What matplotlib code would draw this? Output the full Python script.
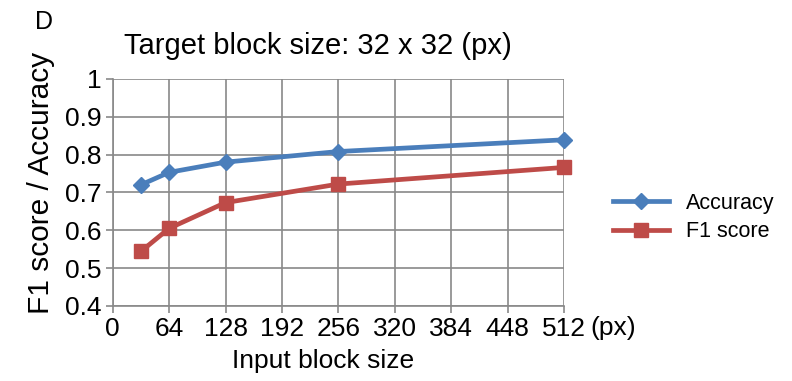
import matplotlib
matplotlib.use("Agg")
import matplotlib.pyplot as plt

input_size = [32, 64, 128, 256, 512]
accuracy = [0.72, 0.753, 0.78, 0.808, 0.839]
f1_score = [0.544, 0.605, 0.673, 0.722, 0.766]
x_ticks = [0, 64, 128, 192, 256, 320, 384, 448, 512]
y_ticks = [0.4, 0.5, 0.6, 0.7, 0.8, 0.9, 1.0]
y_labels = ["0.4", "0.5", "0.6", "0.7", "0.8", "0.9", "1"]

plt.rcParams['font.family'] = ['Liberation Sans', 'DejaVu Sans']
fig = plt.figure(figsize=(7.92, 3.81), dpi=100)
ax = fig.add_axes([0.1423, 0.197, 0.5697, 0.596])

blue = "#4a7ebb"
red = "#be4b48"
grid = "#898989"

ax.plot(input_size, accuracy, color=blue, lw=3.4, marker="D", ms=8.5, label="Accuracy", zorder=3, clip_on=False)
ax.plot(input_size, f1_score, color=red, lw=3.4, marker="s", ms=10, label="F1 score", zorder=3, clip_on=False)

ax.set_xlim(0, 512)
ax.set_ylim(0.4, 1.0)
ax.set_xticks(x_ticks)
ax.set_yticks(y_ticks)
ax.set_yticklabels(y_labels)
ax.grid(True, color=grid, lw=1.2)
for s in ["top", "right"]:
    ax.spines[s].set_visible(False)
for s in ["left", "bottom"]:
    ax.spines[s].set_color(grid)
    ax.spines[s].set_linewidth(1.2)
ax.tick_params(axis="both", colors=grid, labelcolor="black", labelsize=19, length=5, width=1.2, pad=3)

ax.set_xlabel("Input block size", fontsize=19, labelpad=6, x=0.466)
ax.set_ylabel("F1 score / Accuracy", fontsize=21.5, labelpad=7, y=0.54)
ax.set_title("Target block size: 32 x 32 (px)", fontsize=21, pad=18, x=0.455)
fig.text(0.044, 0.925, "D", fontsize=18)
ax.text(1.058, -0.045, "(px)", transform=ax.transAxes, fontsize=19, va="top", ha="left")

leg = ax.legend(loc="center left", bbox_to_anchor=(1.065, 0.39), frameon=False, fontsize=15.5,
                handlelength=2.6, labelspacing=0.35, handletextpad=0.8)

fig.savefig("out.png", dpi=100)
